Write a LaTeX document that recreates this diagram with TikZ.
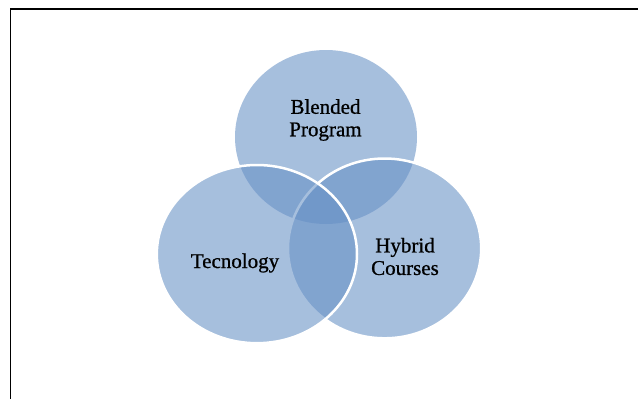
\documentclass[tikz,border=0pt]{standalone}
\usepackage{fontspec}
\setmainfont{Liberation Serif}
\definecolor{vennblue}{RGB}{103,145,198}
\begin{document}
\begin{tikzpicture}[x=1pt,y=-1pt,
  venn/.style={fill=vennblue,fill opacity=0.58},
  vennedge/.style={draw=white,line width=2.5pt},
  vennlabel/.style={font=\fontsize{21}{22.5}\selectfont\addfontfeature{FakeBold=0.8},align=center,text=black,inner sep=0pt},
  frameline/.style={draw=black,line width=1.1pt}]
\useasboundingbox (0,0) rectangle (638,399);
\fill[white] (0,0) rectangle (638,399);
% frame (left and top edges only)
\coordinate (fbl) at (10.5,399);
\coordinate (ftl) at (10.5,9);
\coordinate (ftr) at (638,9);
\draw[frameline] (fbl) -- (ftl) -- (ftr);
% circle centres
\coordinate (ctop) at (326,137);
\coordinate (cright) at (384.6,248.4);
\coordinate (cleft) at (256.9,254.1);
% top circle
\path[venn] (ctop) ellipse [x radius=91, y radius=87];
% right circle
\path[venn] (cright) ellipse [x radius=96.6, y radius=89.9];
\path[vennedge] (cright) ellipse [x radius=96.6, y radius=89.9];
% left circle
\path[venn] (cleft) ellipse [x radius=100.1, y radius=89.1];
\path[vennedge] (cleft) ellipse [x radius=100.1, y radius=89.1];
% labels
\node[vennlabel] (blended) at (325.5,120) {Blended\\Program};
\node[vennlabel,anchor=base] (tech) at (235,268) {Tecnology};
\node[vennlabel] (hybrid) at (405,256.5) {Hybrid\\Courses};
\end{tikzpicture}
\end{document}
